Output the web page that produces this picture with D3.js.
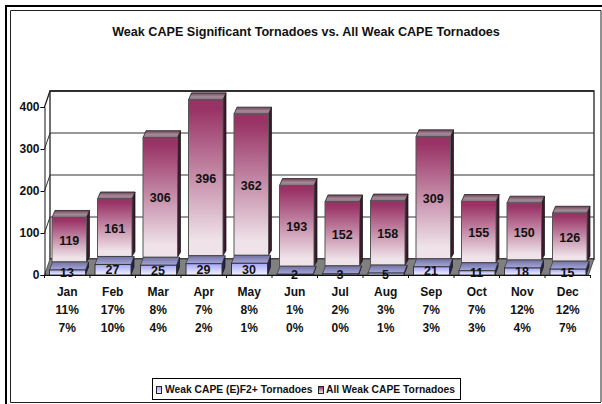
<!DOCTYPE html>
<html><head><meta charset="utf-8"><script src="https://cdn.jsdelivr.net/npm/d3@7"></script>
<style>html,body{margin:0;padding:0;background:#fff}text{font-family:"Liberation Sans",Arial,sans-serif;font-weight:bold;fill:#111}</style></head>
<body><svg id="c" width="602" height="404" style="display:block"></svg>
<script>
const months=["Jan","Feb","Mar","Apr","May","Jun","Jul","Aug","Sep","Oct","Nov","Dec"];
const sigPct=["11%","17%","8%","7%","8%","1%","2%","3%","7%","7%","12%","12%"];
const allPct=["7%","10%","4%","2%","1%","0%","0%","1%","3%","3%","4%","7%"];
const significant=[13,27,25,29,30,2,3,5,21,11,18,15];
const allWeak=[119,161,306,396,362,193,152,158,309,155,150,126];
// top of each stacked bar as it reads against the value axis (the drawn heights differ from the printed labels)
const stackTop=[137,181,327,417,383,213,174,176,329,175,171,147];
const yTicks=[0,100,200,300,400];
const title="Weak CAPE Significant Tornadoes vs. All Weak CAPE Tornadoes";
const legendLabels=["Weak CAPE (E)F2+ Tornadoes","All Weak CAPE Tornadoes"];

const svg=d3.select("#c");
const defs=svg.append("defs");
function grad(id,stops){const g=defs.append("linearGradient").attr("id",id).attr("x1",0).attr("y1",0).attr("x2",0).attr("y2",1);
 stops.forEach(([o,c])=>g.append("stop").attr("offset",o).attr("stop-color",c));}
grad("mar",[[0,"#993366"],[0.06,"#993366"],[0.9,"#efe2e8"],[1,"#efe2e8"]]);
grad("blu",[[0,"#a4a4fa"],[1,"#f4f4ff"]]);
grad("bluTop",[[0,"#72729f"],[1,"#a8a8e0"]]);
grad("marTop",[[0,"#6e4058"],[0.55,"#a58a98"],[1,"#857080"]]);

// frame
svg.append("path").attr("d","M6,404V6H602").attr("fill","none").attr("stroke","#000").attr("stroke-width",2);
svg.append("path").attr("d","M10.5,402.5V10.5H601M601,10.5V402M10.5,402.5H601").attr("fill","none").attr("stroke","#222").attr("stroke-width",1);

svg.append("text").attr("x",306).attr("y",36).attr("text-anchor","middle").attr("font-size",12.6).text(title);

const x=d3.scaleBand().domain(months).range([44.5,590.5]).paddingInner(0);
const y=d3.scaleLinear().domain([0,400]).range([275,107]);
const ySeg=d3.scaleLinear().domain([0,400]).range([275,119]);  // height of the lower segment
const wall={dx:5.5,dy:-16}, depth={dx:3,dy:-8}, x0=x.range()[0], x1=x.range()[1];
const pts=a=>a.map(p=>p.join(",")).join(" ");

// walls and floor
svg.append("polygon").attr("points",pts([[x0+wall.dx,y(400)+wall.dy],[x1+wall.dx-2,y(400)+wall.dy],[x1+wall.dx-2,y(0)+wall.dy],[x0+wall.dx,y(0)+wall.dy]]))
 .attr("fill","#fff").attr("stroke","#222").attr("stroke-width",1.3);
yTicks.slice(1).forEach(t=>{
 svg.append("polyline").attr("points",pts([[x0,y(t)],[x0+wall.dx,y(t)+wall.dy],[x1+wall.dx-2,y(t)+wall.dy]])).attr("fill","none").attr("stroke",t==400?"#222":"#333").attr("stroke-width",t==400?1.3:1);
});
svg.append("polygon").attr("points",pts([[x0,y(0)],[x0+wall.dx,y(0)+wall.dy],[x1+wall.dx-2,y(0)+wall.dy],[x1-2,y(0)]])).attr("fill","#808080").attr("stroke","#111").attr("stroke-width",.6);

const data=months.map((m,i)=>({m,s:significant[i],a:allWeak[i],top:stackTop[i]}));
const g=svg.append("g").selectAll("g").data(data).join("g");
const bw=36;
g.each(function(d){
 const s=d3.select(this), l=x(d.m)+5, r=l+bw;
 const bt=ySeg(d.s), bb=y(0);
 const mb=bt+depth.dy, mt=y(d.top), ml=l+2.5, mr=r+1;
 // maroon, standing behind the blue segment
 s.append("polygon").attr("points",pts([[mr,mb],[mr+depth.dx,mb+depth.dy+3],[mr+depth.dx,mt+depth.dy+1],[mr,mt]])).attr("fill","#3c1a2c").attr("stroke","#111").attr("stroke-width",.7);
 s.append("polygon").attr("points",pts([[ml,mt],[ml+depth.dx,mt+depth.dy+1],[mr+depth.dx,mt+depth.dy+1],[mr,mt]])).attr("fill","url(#marTop)").attr("stroke","#222").attr("stroke-width",.8);
 s.append("rect").attr("x",ml).attr("y",mt).attr("width",mr-ml).attr("height",mb-mt).attr("fill","url(#mar)").attr("stroke","#555").attr("stroke-width",1);
 // blue
 s.append("polygon").attr("points",pts([[r,bb],[r+depth.dx,bb+depth.dy],[r+depth.dx,bt+depth.dy],[r,bt]])).attr("fill","#222250").attr("stroke","#111").attr("stroke-width",.7);
 s.append("polygon").attr("points",pts([[l,bt],[l+depth.dx,bt+depth.dy],[r+depth.dx,bt+depth.dy],[r,bt]])).attr("fill","url(#bluTop)").attr("stroke","#333").attr("stroke-width",.7);
 s.append("rect").attr("x",l).attr("y",bt).attr("width",bw).attr("height",bb-bt).attr("fill","url(#blu)").attr("stroke","#333").attr("stroke-width",1);
 // value labels
 s.append("text").attr("x",(ml+mr)/2).attr("y",(mb+mt)/2+5).attr("text-anchor","middle").attr("font-size",12.5).text(d.a);
 s.append("text").attr("x",(l+r)/2-.5).attr("y",(bt+bb)/2+4.5).attr("text-anchor","middle").attr("font-size",12.5).text(d.s);
});

// axes
const yAxis=d3.axisLeft(y).tickValues(yTicks).tickSize(4).tickPadding(1);
const ya=svg.append("g").attr("transform",`translate(${x0},0)`).call(yAxis);
ya.select(".domain").attr("stroke","#111");
ya.selectAll("text").attr("font-size",12);
const xAxis=d3.axisBottom(x).tickValues([]).tickSizeOuter(0);
svg.append("g").attr("transform",`translate(0,${y(0)})`).call(xAxis).select(".domain").attr("stroke","#111");
svg.append("g").selectAll("line").data(x.domain().concat("end")).join("line")
 .attr("x1",(d,i)=>x0+i*x.step()).attr("x2",(d,i)=>x0+i*x.step()).attr("y1",y(0)).attr("y2",y(0)+3).attr("stroke","#111");

// category labels (three rows)
[[months,296],[sigPct,314],[allPct,332]].forEach(([arr,py])=>{
 svg.append("g").selectAll("text").data(arr).join("text").attr("x",(d,i)=>x(months[i])+x.bandwidth()/2).attr("y",py).attr("text-anchor","middle").attr("font-size",12).text(d=>d);
});

// legend
svg.append("rect").attr("x",152.5).attr("y",378.5).attr("width",308).attr("height",21).attr("fill","#fff").attr("stroke","#000");
[[156.5,"url(#blu)",165,legendLabels[0]],[318.5,"url(#mar)",326,legendLabels[1]]].forEach(([bx,f,tx,t])=>{
 svg.append("rect").attr("x",bx).attr("y",386.5).attr("width",5).attr("height",7).attr("fill",f).attr("stroke","#222");
 svg.append("text").attr("x",tx).attr("y",393).attr("font-size",10.3).text(t);
});
</script></body></html>
